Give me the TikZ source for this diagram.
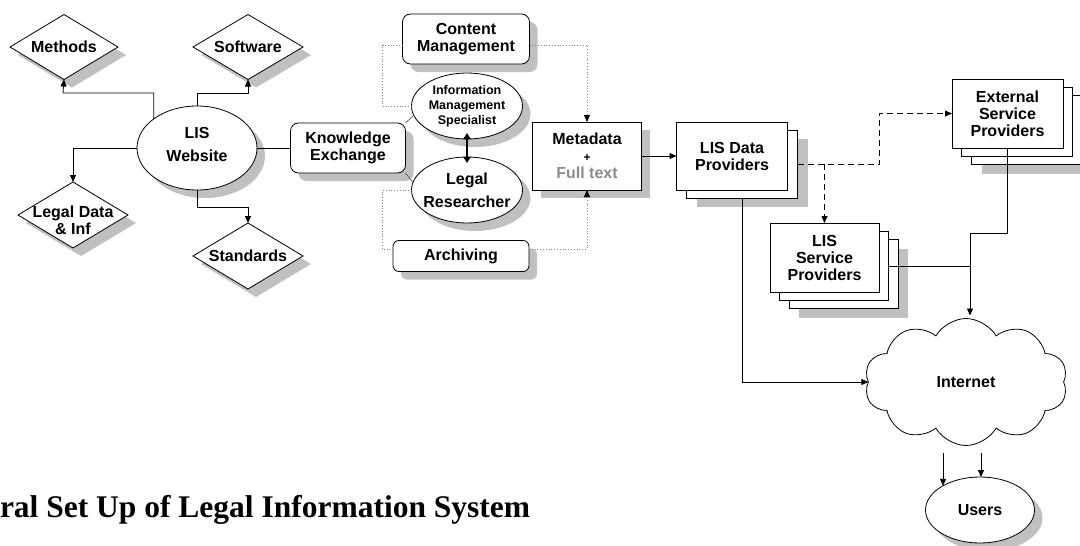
\documentclass[tikz,border=0pt]{standalone}
\usepackage{fontspec}
\setmainfont{Liberation Sans}
\newfontfamily\titlefont{Liberation Serif}
\usetikzlibrary{shapes.geometric,shapes.symbols,shadows,arrows.meta,calc}
\definecolor{shadowc}{RGB}{192,192,192}
\definecolor{dotc}{RGB}{130,130,130}
\definecolor{ftext}{RGB}{140,140,140}
\definecolor{linkc}{RGB}{90,90,90}
\tikzset{
  fnt/.style={font=\bfseries\fontsize{16}{17}\selectfont},
  every node/.style={fnt, align=center, inner sep=0pt, outer sep=0pt},
  shadowed/.style={drop shadow={shadow xshift=8pt, shadow yshift=-8pt, fill=shadowc, opacity=1}},
  dia/.style={diamond, draw, line width=0.8pt, fill=white, shadowed, minimum width=110pt, minimum height=66pt},
  ell/.style={ellipse, draw, line width=0.8pt, fill=white, shadowed},
  rbox/.style={rectangle, rounded corners=8pt, draw, line width=0.8pt, fill=white, shadowed},
  sbox/.style={rectangle, draw, line width=0.8pt, fill=white},
  sshadow/.style={rectangle, fill=shadowc},
  stk/.style={minimum width=111pt, minimum height=68pt},
  tip/.style={-{Triangle[length=7pt,width=6pt,color=black]}},
  conn/.style={line width=0.8pt, tip},
  plain/.style={line width=0.8pt},
  dots/.style={dotc, dotted, line width=0.8pt},
  dashline/.style={dash pattern=on 6pt off 4pt, line width=0.9pt},
  link/.style={linkc, line width=0.7pt}
}
\begin{document}
\begin{tikzpicture}[x=1pt,y=-1pt]
\path[use as bounding box] (0,0) rectangle (1080,546);

% ---- left cluster
\node[ell, minimum width=120pt, minimum height=84pt,
  label={[font=\bfseries\fontsize{16}{23}\selectfont, yshift=4pt]center:LIS\\Website}] (web) at (197,148) {};
\node[dia, minimum width=108pt, minimum height=65pt, label=center:Methods] (meth) at (64,47) {};
\node[dia, minimum height=65pt, label=center:Software] (soft) at (248,47) {};
\node[dia, label={[yshift=-5pt]center:Legal Data\\\& Inf}] (legal) at (73,215) {};
\node[dia, label=center:Standards] (stand) at (248,256) {};

% ---- middle cluster
\node[rbox, minimum width=115pt, minimum height=50pt] (ke) at (348,148) {Knowledge\\Exchange};
\node[rbox, minimum width=127pt, minimum height=50pt] (cm) at (466,39) {Content\\Management};
\node[ell, minimum width=111pt, minimum height=66pt, font=\bfseries\fontsize{12.5}{15}\selectfont] (ims) at (467,106) {Information\\Management\\Specialist};
\node[ell, minimum width=111pt, minimum height=66pt,
  label={[font=\bfseries\fontsize{16}{23}\selectfont]center:Legal\\Researcher}] (lr) at (467,190) {};
\node[rbox, rounded corners=6pt, minimum width=136pt, minimum height=31pt] (arch) at (461,256) {Archiving};
\node[sbox, shadowed, minimum width=109pt, minimum height=68pt] (meta) at (587,156)
  {Metadata\\{\fontsize{12}{12}\selectfont +}\\\textcolor{ftext}{Full text}};

% ---- LIS Data Providers stack
\node[sshadow, stk] (ldp-s) at (752,173) {};
\node[sbox, stk] (ldp-b) at (742,164) {};
\node[sbox, stk] (ldp) at (732,156) {LIS Data\\Providers};

% ---- External Service Providers stack
\node[sshadow, stk, minimum height=69pt] (esp-s) at (1037,139) {};
\node[sbox, stk, minimum height=69pt] (esp-b2) at (1027,130) {};
\node[sbox, stk, minimum height=69pt] (esp-b1) at (1017,122) {};
\node[sbox, stk, minimum height=69pt] (esp) at (1007.5,113.5) {External\\Service\\Providers};

% ---- LIS Service Providers stack
\node[sshadow, minimum width=109pt, minimum height=69pt] (lsp-s) at (853,283) {};
\node[sbox, minimum width=109pt, minimum height=69pt] (lsp-b2) at (844,274) {};
\node[sbox, minimum width=109pt, minimum height=69pt] (lsp-b1) at (834,266) {};
\node[sbox, minimum width=109pt, minimum height=69pt] (lsp) at (824.5,257.5) {LIS\\Service\\Providers};

% ---- Internet and users
\node[cloud, draw, line width=0.8pt, fill=white, cloud puffs=10, cloud puff arc=120, aspect=1.6,
  cloud ignores aspect, minimum width=203pt, minimum height=127pt] (cloud) at (966,382) {Internet};
\node[ell, minimum width=109pt, minimum height=66pt] (users) at (980,510) {Users};

% ---- title
\node[anchor=base west, font=\titlefont\bfseries\fontsize{31.5}{32}\selectfont] (title) at (0,517)
  {ral Set Up of Legal Information System};

% ---- connectors: LIS Website
\coordinate (j1) at (63,93);
\coordinate (j2) at (248,93);
\coordinate (j3) at (248,207);
\draw[conn] (web.146) |- (j1) -- (meth.south);
\draw[conn] (web.north) |- (j2) -- (soft.south);
\draw[conn] (web.west) -| (legal.north);
\draw[conn] (web.south) |- (j3) -- (stand.north);
\draw[plain] (web.east) -- (ke.west);

% ---- Knowledge exchange links
\draw[link] (ke.north east) -- (ims.190);
\draw[link] (ke.south east) -- (lr.172);
\draw[line width=2.4pt, {Triangle[length=6pt,width=7pt]}-{Triangle[length=6pt,width=7pt]},
  shorten <=-6pt, shorten >=-6pt] (ims.south) -- (lr.north);

% ---- dotted links
\draw[dots] ([yshift=-6pt]cm.west) -| ($(ims.west)+(-29,0)$) -- (ims.west);
\draw[dots, tip] ([yshift=-6pt]cm.east) -| (meta.north);
\draw[dots] ([yshift=7pt]arch.west) -| ($(lr.west)+(-29,0)$) -- (lr.west);
\draw[dots, tip] ([yshift=7pt]arch.east) -| (meta.south);

% ---- right side
\draw[conn] (meta.east) -- (ldp.west);
\coordinate (k1) at (879,164);
\draw[dashline, conn] (ldp-b.east) -- (k1) |- (esp.west);
\draw[dashline, conn] (lsp.north |- ldp-b.east) -- (lsp.north);
\coordinate (m1) at (970,233);
\draw[conn, shorten >=3pt] (esp.south) |- (m1) -- (m1 |- cloud.north);
\draw[plain] (lsp-b1.east) -- (lsp-b1.east -| m1);
\draw[conn] (ldp-b.south) |- (cloud.west);
\coordinate (u1) at (943,453);
\coordinate (u2) at (981,453);
\draw[conn] (u1) -- (u1 |- users.147);
\draw[conn] (u2) -- (u2 |- users.north);
\end{tikzpicture}
\end{document}
